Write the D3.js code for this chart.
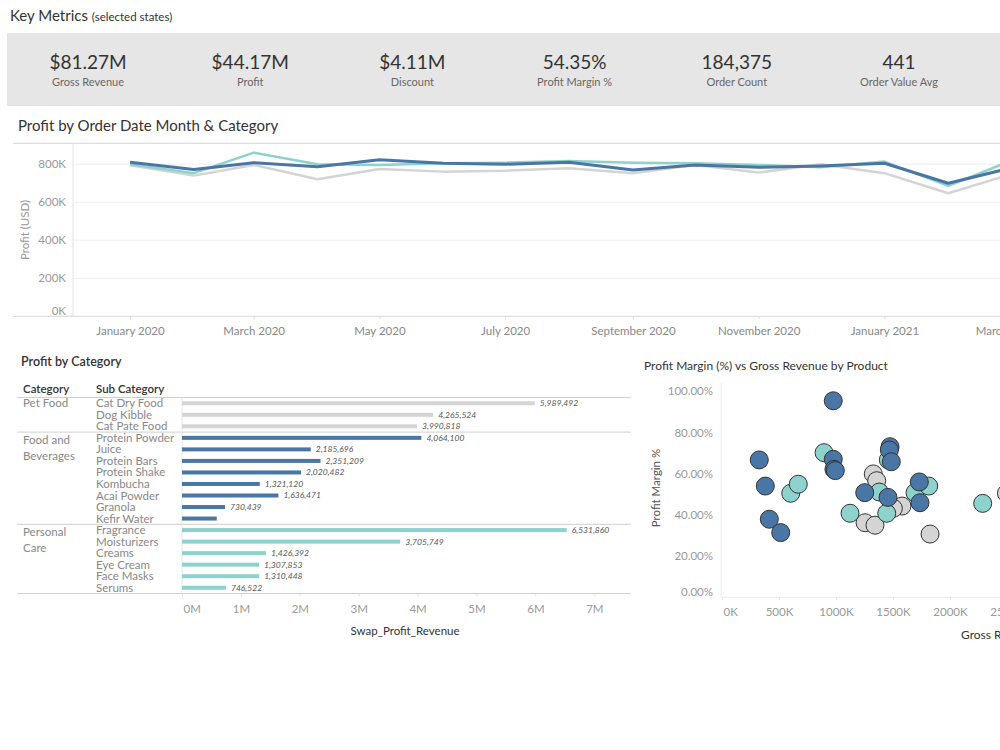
<!DOCTYPE html>
<html>
<head>
<meta charset="utf-8">
<script src="https://cdn.jsdelivr.net/npm/d3@7"></script>
<style>
 body { margin: 0; background: #fff; }
 svg { display: block; font-family: Lato, "Open Sans", sans-serif; }
</style>
</head>
<body>
<div id="dash"></div>
<script>
// ---- data ----
const kpiValues = ["$81.27M", "$44.17M", "$4.11M", "54.35%", "184,375", "441"];
const kpiLabels = ["Gross Revenue", "Profit", "Discount", "Profit Margin %", "Order Count", "Order Value Avg"];

const months = ["2020-01", "2020-02", "2020-03", "2020-04", "2020-05", "2020-06", "2020-07", "2020-08",
 "2020-09", "2020-10", "2020-11", "2020-12", "2021-01", "2021-02", "2021-03"];
const profitFood = [810, 772, 808, 787, 823, 805, 800, 810, 770, 796, 784, 791, 805, 700, 774];
const profitCare = [800, 753, 861, 800, 796, 805, 808, 817, 808, 805, 796, 784, 814, 686, 808];
const profitPet = [795, 740, 796, 721, 775, 761, 766, 779, 753, 796, 756, 800, 753, 647, 740];

const categories = ["Pet Food", "Food and Beverages", "Personal Care"];
const subCategories = ["Cat Dry Food", "Dog Kibble", "Cat Pate Food",
 "Protein Powder", "Juice", "Protein Bars", "Protein Shake", "Kombucha", "Acai Powder", "Granola", "Kefir Water",
 "Fragrance", "Moisturizers", "Creams", "Eye Cream", "Face Masks", "Serums"];
const subCategoryGroup = ["Pet Food", "Pet Food", "Pet Food",
 "Food and Beverages", "Food and Beverages", "Food and Beverages", "Food and Beverages", "Food and Beverages",
 "Food and Beverages", "Food and Beverages", "Food and Beverages",
 "Personal Care", "Personal Care", "Personal Care", "Personal Care", "Personal Care", "Personal Care"];
const subCategoryProfit = [5989492, 4265524, 3990818,
 4064100, 2185696, 2351209, 2020482, 1321120, 1636471, 730439, 590000,
 6531860, 3705749, 1426392, 1307853, 1310448, 746522];
const subCategoryLabelShown = [true, true, true, true, true, true, true, true, true, true, false,
 true, true, true, true, true, true];

// scatter: gross revenue (K) and profit margin (%) per product
const petRevenue = [1327, 1357, 1579, 1503, 1255, 1342, 1825, 2495];
const petMargin = [59.9, 56.6, 44.3, 43.2, 36.2, 35.0, 30.7, 50.5];
const careRevenue = [895, 603, 669, 1123, 1380, 1445, 1459, 1693, 1813, 2287];
const careMargin = [70.2, 50.5, 54.9, 40.8, 51.1, 40.8, 66.7, 50.8, 54.0, 45.6];
const foodRevenue = [976, 327, 380, 415, 515, 976, 982, 994, 1252, 1474, 1468, 1485, 1456, 1731, 1737];
const foodMargin = [95.4, 66.7, 54.0, 37.9, 31.4, 67.0, 62.1, 61.5, 50.8, 73.1, 71.5, 65.8, 48.5, 56.0, 45.9];

const colors = { "Pet Food": "#d4d4d4", "Food and Beverages": "#4a76a6", "Personal Care": "#8ed2cd" };

// ---- svg ----
const width = 1000, height = 750;
const svg = d3.select("#dash").append("svg").attr("width", width).attr("height", height);

// ---- key metrics ----
const title = svg.append("text").attr("x", 10).attr("y", 21).attr("fill", "#333");
title.append("tspan").attr("font-size", 15).text("Key Metrics ");
title.append("tspan").attr("font-size", 11.5).text("(selected states)");

svg.append("rect").attr("x", 7).attr("y", 33).attr("width", 1000).attr("height", 73).attr("fill", "#e6e6e6");

const kpiX = d3.scalePoint().domain(kpiLabels).range([88, 899]);
const kpi = svg.selectAll(".kpi").data(kpiLabels).enter().append("g")
 .attr("transform", d => `translate(${kpiX(d)},0)`);
kpi.append("text").attr("y", 69).attr("text-anchor", "middle").attr("font-size", 19)
 .attr("fill", "#333").text((d, i) => kpiValues[i]);
kpi.append("text").attr("y", 86).attr("text-anchor", "middle").attr("font-size", 11)
 .attr("fill", "#666").text(d => d);

// ---- line chart ----
svg.append("text").attr("x", 18).attr("y", 131).attr("font-size", 15).attr("fill", "#333")
 .text("Profit by Order Date Month & Category");

const parseMonth = d3.timeParse("%Y-%m");
const xLine = d3.scaleTime().domain([parseMonth("2020-01"), parseMonth("2021-03")]).range([130, 1006]);
const yLine = d3.scaleLinear().domain([0, 910000]).range([316.3, 143.3]);

const lineG = svg.append("g");
lineG.selectAll(".grid").data([200000, 400000, 600000, 800000]).enter().append("line")
 .attr("x1", 73).attr("x2", 1000).attr("y1", d => yLine(d)).attr("y2", d => yLine(d))
 .attr("stroke", "#efefef");
lineG.append("line").attr("x1", 13).attr("x2", 1000).attr("y1", yLine(910000)).attr("y2", yLine(910000))
 .attr("stroke", "#d6d6d6");
lineG.append("line").attr("x1", 13).attr("x2", 1000).attr("y1", yLine(0)).attr("y2", yLine(0))
 .attr("stroke", "#d6d6d6");
lineG.append("line").attr("x1", 73).attr("x2", 73).attr("y1", yLine(910000)).attr("y2", yLine(0))
 .attr("stroke", "#e2e2e2");

lineG.selectAll(".ylab").data([0, 200000, 400000, 600000, 800000]).enter().append("text")
 .attr("x", 66).attr("y", d => yLine(d)).attr("dy", d => d === 0 ? "-0.1em" : "0.35em")
 .attr("text-anchor", "end").attr("font-size", 11.5).attr("fill", "#999")
 .text(d => d / 1000 + "K");
lineG.append("text").attr("transform", "translate(29,230) rotate(-90)").attr("text-anchor", "middle")
 .attr("font-size", 11.5).attr("fill", "#999").text("Profit (USD)");

const xTicks = d3.timeMonth.range(parseMonth("2020-01"), parseMonth("2021-04"), 2);
const xAxisLine = d3.axisBottom(xLine).tickValues(xTicks).tickFormat(d3.timeFormat("%B %Y")).tickSize(3).tickPadding(8);
const xAxG = lineG.append("g").attr("transform", `translate(0,${yLine(0)})`).call(xAxisLine);
xAxG.select(".domain").remove();
xAxG.selectAll("line").attr("stroke", "#ddd");
xAxG.selectAll("text").attr("font-size", 11.5).attr("fill", "#888").attr("font-family", "Lato, sans-serif");

const line = d3.line().x((d, i) => xLine(parseMonth(months[i]))).y(d => yLine(d * 1000));
[[profitPet, "Pet Food", 2.5], [profitCare, "Personal Care", 2.5], [profitFood, "Food and Beverages", 3]]
 .forEach(([vals, cat, w]) => {
  lineG.append("path").datum(vals).attr("d", line).attr("fill", "none")
   .attr("stroke", colors[cat]).attr("stroke-width", w).attr("stroke-linejoin", "round");
 });

// ---- bar chart ----
svg.append("text").attr("x", 21).attr("y", 366).attr("font-size", 12.5).attr("font-weight", 600)
 .attr("fill", "#333").text("Profit by Category");
svg.append("text").attr("x", 23).attr("y", 393).attr("font-size", 11.5).attr("font-weight", 600)
 .attr("fill", "#333").text("Category");
svg.append("text").attr("x", 96).attr("y", 393).attr("font-size", 11.5).attr("font-weight", 600)
 .attr("fill", "#333").text("Sub Category");

const xBar = d3.scaleLinear().domain([0, 7000000]).range([182, 594.3]);
const yBar = d3.scaleBand().domain(subCategories).range([397.5, 593.5]);
const rowMid = d => yBar(d) + yBar.bandwidth() / 2;

const barG = svg.append("g");
// group separators
const groupStarts = categories.map(c => subCategories[subCategoryGroup.indexOf(c)]);
barG.selectAll(".sep").data(groupStarts).enter().append("line")
 .attr("x1", 17).attr("x2", 631).attr("y1", d => yBar(d)).attr("y2", d => yBar(d))
 .attr("stroke", "#cfcfcf");
barG.append("line").attr("x1", 17).attr("x2", 631).attr("y1", 593.5).attr("y2", 593.5).attr("stroke", "#cfcfcf");
barG.append("line").attr("x1", 182).attr("x2", 182).attr("y1", 397.5).attr("y2", 593.5).attr("stroke", "#e6e6e6");

// category labels
const catLines = { "Pet Food": ["Pet Food"], "Food and Beverages": ["Food and", "Beverages"], "Personal Care": ["Personal", "Care"] };
categories.forEach((c, i) => {
  const t = barG.append("text").attr("x", 23).attr("y", rowMid(groupStarts[i]) + (i === 0 ? 0 : 2))
   .attr("dy", "0.35em").attr("font-size", 11.5).attr("fill", "#888");
  catLines[c].forEach((s, j) => t.append("tspan").attr("x", 23).attr("dy", j === 0 ? "0.35em" : 16).text(s));
});

barG.selectAll(".sub").data(subCategories).enter().append("text")
 .attr("x", 96).attr("y", d => rowMid(d)).attr("dy", "0.35em")
 .attr("font-size", 11.5).attr("fill", "#888").text(d => d);

barG.selectAll(".bar").data(subCategories).enter().append("rect")
 .attr("x", xBar(0)).attr("y", d => rowMid(d) - 2)
 .attr("width", (d, i) => xBar(subCategoryProfit[i]) - xBar(0)).attr("height", 4)
 .attr("fill", (d, i) => colors[subCategoryGroup[i]]);

barG.selectAll(".val").data(subCategories).enter().append("text")
 .filter((d, i) => subCategoryLabelShown[i])
 .attr("x", d => xBar(subCategoryProfit[subCategories.indexOf(d)]) + 5).attr("y", d => rowMid(d)).attr("dy", "0.35em")
 .attr("font-size", 8.5).attr("font-style", "italic").attr("fill", "#555")
 .text(d => d3.format(",")(subCategoryProfit[subCategories.indexOf(d)]));

const xAxisBar = d3.axisBottom(xBar).ticks(7).tickFormat(d => d / 1e6 + "M").tickSize(3).tickPadding(8);
const barAx = barG.append("g").attr("transform", "translate(0,593.5)").call(xAxisBar);
barAx.select(".domain").remove();
barAx.selectAll("line").attr("stroke", "#e0e0e0");
barAx.selectAll("text").attr("font-size", 11.5).attr("fill", "#999").attr("font-family", "Lato, sans-serif")
 .filter(d => d === 0).attr("text-anchor", "start").attr("x", 1);
barG.append("text").attr("x", 405).attr("y", 635).attr("text-anchor", "middle").attr("font-size", 11.5)
 .attr("fill", "#333").text("Swap_Profit_Revenue");

// ---- scatter ----
svg.append("text").attr("x", 644).attr("y", 370).attr("font-size", 12).attr("fill", "#333")
 .text("Profit Margin (%) vs Gross Revenue by Product");

const xSc = d3.scaleLinear().domain([0, 2500000]).range([722, 1007]);
const ySc = d3.scaleLinear().domain([0, 1]).range([597.3, 391.3]);
const scG = svg.append("g");
scG.append("line").attr("x1", 721).attr("x2", 721).attr("y1", 383).attr("y2", 597.3).attr("stroke", "#ececec");
scG.append("line").attr("x1", 721).attr("x2", 1000).attr("y1", 597.3).attr("y2", 597.3).attr("stroke", "#ececec");

const yAxSc = d3.axisLeft(ySc).tickValues([0, 0.2, 0.4, 0.6, 0.8, 1]).tickFormat(d3.format(".2%")).tickSize(0).tickPadding(8);
const yScG = scG.append("g").attr("transform", "translate(721,0)").call(yAxSc);
yScG.select(".domain").remove();
yScG.selectAll("text").attr("font-size", 11.5).attr("fill", "#999").attr("font-family", "Lato, sans-serif")
 .filter(d => d === 0).attr("dy", "-0.2em");
scG.append("text").attr("transform", "translate(660,488) rotate(-90)").attr("text-anchor", "middle")
 .attr("font-size", 11.5).attr("fill", "#555").text("Profit Margin %");

const xAxSc = d3.axisBottom(xSc).tickValues([0, 500000, 1000000, 1500000, 2000000, 2500000])
 .tickFormat(d => d / 1000 + "K").tickSize(3).tickPadding(8);
const xScG = scG.append("g").attr("transform", "translate(0,597.3)").call(xAxSc);
xScG.select(".domain").remove();
xScG.selectAll("line").attr("stroke", "#e6e6e6");
xScG.selectAll("text").attr("font-size", 11.5).attr("fill", "#999").attr("font-family", "Lato, sans-serif")
 .filter(d => d === 0).attr("text-anchor", "start").attr("x", 1);
scG.append("text").attr("x", 961).attr("y", 639).attr("font-size", 12).attr("fill", "#333").text("Gross Revenue");

[[petRevenue, petMargin, "Pet Food"], [careRevenue, careMargin, "Personal Care"], [foodRevenue, foodMargin, "Food and Beverages"]]
 .forEach(([rev, mar, cat]) => {
  scG.selectAll(null).data(rev).enter().append("circle")
   .attr("cx", d => xSc(d * 1000)).attr("cy", (d, i) => ySc(mar[i] / 100)).attr("r", 9)
   .attr("fill", colors[cat]).attr("stroke", "#333").attr("stroke-width", 1);
 });
</script>
</body>
</html>
